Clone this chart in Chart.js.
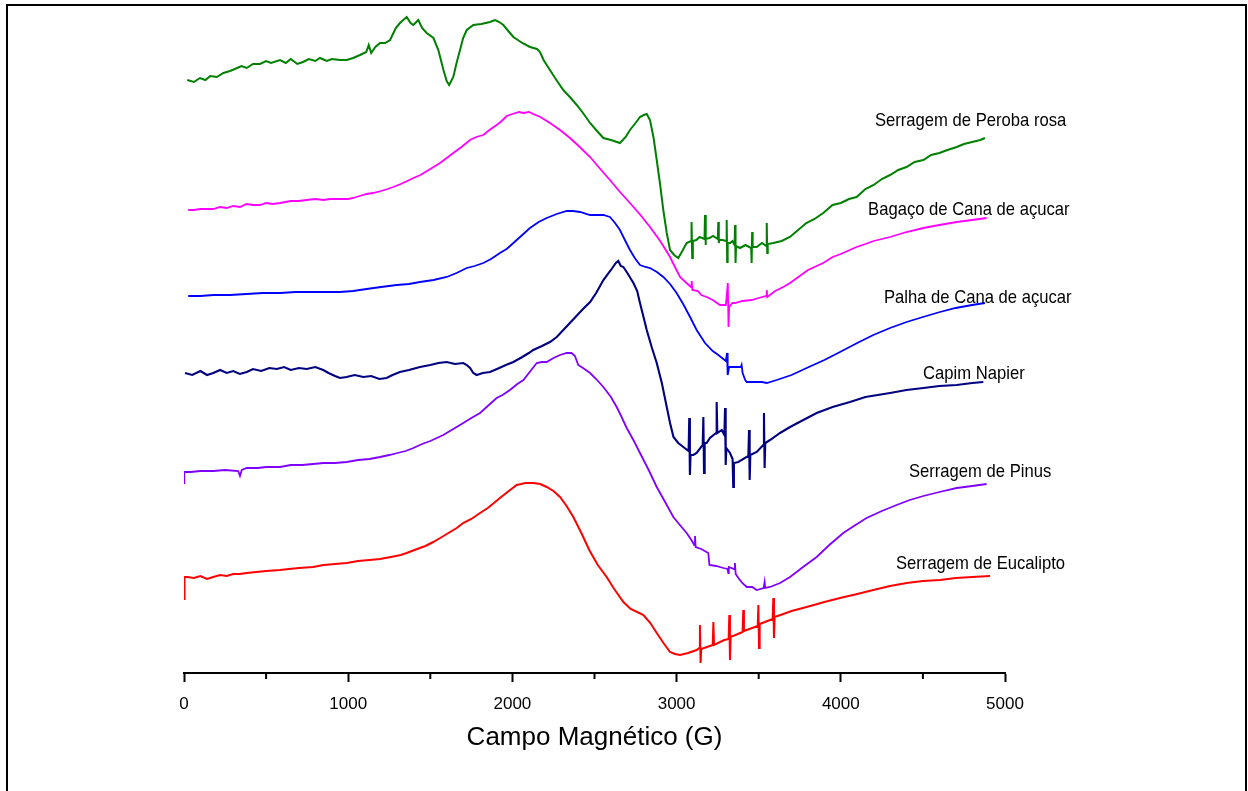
<!DOCTYPE html>
<html>
<head>
<meta charset="utf-8">
<script src="https://cdn.jsdelivr.net/npm/chart.js@4.4.1/dist/chart.umd.min.js"></script>
<style>
html,body{margin:0;padding:0;background:#fff;}
#wrap{position:relative;width:1248px;height:791px;}
</style>
</head>
<body>
<div id="wrap"><canvas id="c" width="1248" height="791"></canvas></div>
<script>
// ---- data (x in Gauss, y in arbitrary intensity units incl. vertical offset) ----
const perobaX = [20,60,97,130,160,200,240,280,310,350,382,420,463,500,530,585,620,650,690,725,760,800,828,870,900,950,991,1030,1072,1110,1125,1140,1165,1194,1225,1255,1290,1315,1356,1380,1397,1427,1450,1478,1519,1549,1580,1600,1615,1640,1660,1681,1700,1722,1762,1810,1864,1894,1920,1945,1975,2006,2060,2107,2150,2168,2190,2209,2260,2310,2350,2392,2430,2473,2510,2554,2600,2655,2690,2716,2750,2777,2800,2818,2838,2860,2879,2900,2919,2940,2960,2985,3010,3035,3061,3088,3091,3095,3099,3120,3140,3170,3173,3176,3179,3200,3222,3251,3254,3257,3260,3280,3302,3305,3308,3311,3327,3340,3353,3356,3359,3362,3386,3420,3454,3457,3460,3463,3488,3520,3546,3549,3552,3555,3589,3640,3690,3740,3790,3840,3893,3950,4000,4050,4096,4150,4200,4250,4300,4350,4400,4450,4503,4550,4600,4650,4706,4750,4800,4850,4878];
const perobaY = [593,591,595,593,597,596,600,602,604,607,605,609,609,612,610,613,610,614,609,611,614,612,615,612,614,613,613,615,618,621,628,620,626,630,630,633,645,650,656,650,648,653,645,640,635,623,603,592,588,596,610,623,635,643,648,649,651,653,651,648,642,636,630,626,624,621,613,608,595,583,576,568,560,550,543,535,533,530,536,543,550,556,558,559,553,535,513,488,463,440,423,418,415,422,430,432,451,415,432,433,436,434,458,428,434,435,437,434,451,430,433,433,432,453,411,430,430,432,428,448,410,427,425,428,425,410,441,426,426,430,427,450,420,429,430,432,436,443,450,454,460,468,470,474,476,484,488,494,498,503,506,511,513,518,520,523,526,529,531,533,535];

const bagacoX = [26,60,100,140,178,220,260,300,341,380,420,463,500,540,585,650,700,747,800,850,889,950,1000,1031,1070,1112,1150,1200,1240,1275,1320,1360,1397,1440,1480,1520,1559,1600,1640,1690,1742,1780,1823,1860,1904,1935,1965,2000,2040,2067,2100,2127,2170,2229,2290,2351,2410,2473,2530,2594,2650,2716,2780,2838,2900,2960,2990,3021,3060,3088,3092,3096,3130,3150,3183,3220,3264,3300,3312,3316,3320,3340,3356,3400,3457,3500,3546,3549,3552,3600,3650,3691,3750,3800,3893,3950,4000,4096,4150,4200,4300,4400,4503,4600,4706,4800,4888];
const bagacoY = [463,463,464,464,464,466,465,467,466,469,468,468,470,469,470,472,472,473,474,473,474,474,474,475,477,479,480,482,484,486,489,492,495,498,502,506,510,515,520,526,533,536,538,543,548,552,557,559,561,560,561,559,556,550,543,535,526,516,505,493,482,470,458,446,432,416,406,396,390,386,392,383,382,378,376,373,368,368,390,346,366,370,370,372,373,375,377,383,376,382,386,390,397,403,410,416,419,426,429,432,436,441,445,448,451,453,455];

const palhaX = [26,100,180,280,380,480,585,680,787,870,950,1030,1112,1200,1295,1370,1437,1520,1600,1660,1722,1770,1823,1870,1924,1965,2006,2060,2107,2160,2209,2270,2331,2370,2412,2473,2520,2554,2594,2625,2655,2685,2716,2745,2777,2810,2838,2880,2919,2960,3000,3040,3082,3122,3173,3220,3254,3300,3307,3311,3320,3345,3392,3396,3402,3418,3427,3489,3520,3549,3610,3700,3792,3900,3995,4100,4198,4300,4401,4500,4604,4700,4800,4878];
const palhaY = [377,377,378,378,379,380,380,381,381,381,381,382,384,386,388,389,391,393,396,400,405,407,410,414,420,424,430,438,445,451,455,459,462,462,461,458,458,458,456,450,443,433,423,415,408,406,405,401,396,389,380,369,356,343,330,322,318,312,320,298,306,306,306,308,300,293,291,291,291,290,293,298,305,313,321,330,338,345,351,356,361,365,368,370];

const capimX = [6,50,100,140,178,220,260,300,340,382,420,470,520,565,610,650,700,747,800,848,880,920,950,990,1040,1092,1140,1190,1234,1270,1315,1370,1437,1500,1550,1600,1650,1701,1722,1742,1762,1782,1820,1864,1920,1960,2006,2060,2100,2127,2180,2229,2270,2310,2350,2390,2430,2473,2510,2554,2600,2630,2645,2660,2676,2700,2737,2760,2777,2800,2818,2850,2879,2910,2940,2960,2981,3010,3041,3073,3077,3081,3085,3102,3122,3159,3163,3167,3171,3183,3203,3240,3244,3248,3275,3291,3295,3299,3303,3325,3341,3345,3349,3376,3437,3441,3445,3449,3488,3528,3532,3536,3540,3569,3630,3691,3760,3853,3950,4056,4150,4300,4400,4503,4600,4706,4800,4868];
const capimY = [300,298,302,298,300,303,300,302,299,301,304,302,305,304,306,303,305,304,306,303,300,297,295,296,298,296,297,294,295,298,301,303,306,308,310,311,309,310,308,305,300,298,300,301,305,308,311,316,320,323,327,331,336,343,350,357,364,371,380,393,403,410,412,407,406,400,390,382,370,355,343,325,310,290,266,250,236,230,226,222,255,198,218,218,220,228,256,200,230,230,235,240,271,240,243,238,265,208,225,220,214,186,210,211,217,243,193,218,221,228,260,205,230,233,240,246,252,260,266,271,276,280,283,285,287,288,290,291];

const pinusX = [0,2,40,100,178,250,330,341,352,382,450,500,585,650,720,787,850,920,991,1060,1130,1194,1250,1300,1350,1397,1450,1500,1540,1579,1640,1701,1750,1803,1850,1904,1940,1985,2030,2067,2110,2148,2180,2209,2250,2290,2331,2360,2381,2401,2430,2473,2510,2554,2600,2635,2665,2696,2740,2777,2830,2879,2930,2980,3020,3061,3090,3108,3112,3116,3150,3193,3200,3240,3285,3310,3315,3318,3350,3355,3360,3376,3400,3427,3460,3488,3530,3536,3540,3569,3630,3691,3770,3853,3930,4015,4080,4157,4250,4340,4420,4503,4600,4706,4800,4888];
const pinusY = [190,201,201,202,202,203,202,197,203,205,205,206,206,208,208,209,210,210,211,213,214,216,218,220,222,225,229,232,235,238,244,250,255,260,267,275,278,283,289,293,302,310,311,311,315,318,320,320,317,308,305,300,294,286,276,266,256,245,232,220,203,186,171,156,148,140,133,128,137,126,124,120,108,107,105,104,100,106,104,110,99,95,90,86,86,83,85,91,85,86,90,96,106,116,128,140,147,155,162,168,173,177,181,185,187,189];

const eucaliptoX = [0,3,20,60,100,140,178,220,260,300,340,382,440,500,585,640,700,787,850,920,991,1060,1130,1194,1260,1320,1356,1420,1470,1518,1560,1600,1661,1700,1750,1803,1850,1880,1924,1970,2026,2080,2127,2170,2209,2250,2290,2330,2371,2420,2468,2520,2574,2620,2676,2720,2760,2798,2840,2879,2920,2960,2990,3021,3070,3122,3138,3142,3146,3150,3220,3224,3228,3290,3317,3321,3325,3329,3402,3406,3410,3494,3498,3502,3506,3585,3589,3593,3597,3650,3700,3792,3900,3995,4100,4198,4300,4401,4500,4604,4700,4800,4909];
const eucaliptoY = [74,96,96,95,97,94,96,98,97,99,99,100,101,102,103,104,105,106,108,109,110,112,113,114,116,118,120,124,127,131,135,139,145,150,154,160,165,169,175,181,188,190,190,189,186,182,176,167,156,140,123,108,96,84,71,64,61,58,50,40,30,21,19,18,20,23,25,48,10,24,28,51,28,33,34,58,13,36,41,63,42,47,68,25,49,54,75,35,56,59,62,66,71,75,79,83,87,90,92,93,95,96,97];

const seriesNames = ['Serragem de Peroba rosa','Bagaço de Cana de açucar','Palha de Cana de açucar','Capim Napier','Serragem de Pinus','Serragem de Eucalipto'];
const seriesColors = ['#008000','#ff00ff','#0000ff','#000080','#8000ff','#ff0000'];
const xTickValues = [0,1000,2000,3000,4000,5000];
const xMinorTickValues = [500,1500,2500,3500,4500];
// label anchors in data units (Gauss, intensity)
const labelAnchorX = [4208,4166,4263,4501,4415,4336];
const labelAnchorY = [552,463,375,299,201,109];

const xs = [perobaX,bagacoX,palhaX,capimX,pinusX,eucaliptoX];
const ys = [perobaY,bagacoY,palhaY,capimY,pinusY,eucaliptoY];
const lineWidths = [2,1.8,1.8,2.1,1.8,2];

const FONT = "'Liberation Sans', Arial, sans-serif";

const framePlugin = {
  id:'frame',
  beforeDraw(chart){
    const c=chart.ctx; c.save(); c.fillStyle='#fff'; c.fillRect(0,0,chart.width,chart.height); c.restore();
  },
  afterDraw(chart){
    const c=chart.ctx, sx=chart.scales.x, sy=chart.scales.y;
    c.save();
    c.strokeStyle='#000'; c.lineWidth=2;
    c.beginPath(); c.moveTo(7,800); c.lineTo(7,5); c.lineTo(1246,5); c.lineTo(1246,800); c.stroke();
    // minor ticks
    const yb=chart.chartArea.bottom;
    xMinorTickValues.forEach(v=>{const p=sx.getPixelForValue(v); c.beginPath(); c.moveTo(p,yb); c.lineTo(p,yb+6); c.stroke();});
    // series labels
    c.fillStyle='#000'; c.textBaseline='middle'; c.textAlign='left';
    c.font="19px "+FONT;
    seriesNames.forEach((n,i)=>{
      const px=sx.getPixelForValue(labelAnchorX[i]), py=sy.getPixelForValue(labelAnchorY[i]);
      c.save(); c.translate(px,py); c.scale(0.875,1); c.fillText(n,0,0); c.restore();
    });
    c.restore();
  }
};

new Chart(document.getElementById('c'),{
  type:'line',
  data:{datasets: seriesNames.map((n,i)=>({
    label:n,
    data: xs[i].map((x,j)=>({x:x,y:ys[i][j]})),
    borderColor: seriesColors[i], backgroundColor: seriesColors[i],
    borderWidth:lineWidths[i], pointRadius:0, tension:0, fill:false
  }))},
  options:{
    responsive:false, animation:false, devicePixelRatio:1,
    layout:{padding:{left:184,right:243,top:10,bottom:34}},
    plugins:{legend:{display:false},tooltip:{enabled:false}},
    scales:{
      x:{type:'linear',min:0,max:5000,position:'bottom',
         afterBuildTicks:(s)=>{s.ticks=xTickValues.map(v=>({value:v}));},
         ticks:{color:'#000',font:{family:FONT,size:17},padding:12,maxRotation:0,autoSkip:false,
                callback:(v)=>String(v)},
         grid:{drawOnChartArea:false,drawTicks:true,tickLength:9,tickWidth:2,tickColor:'#000'},
         border:{display:true,color:'#000',width:2},
         title:{display:true,text:'Campo Magnético (G)',color:'#000',font:{family:FONT,size:26},padding:{top:4,bottom:4}},
         afterFit:(s)=>{s.height=84;}
      },
      y:{type:'linear',display:false,min:0,max:663}
    }
  },
  plugins:[framePlugin]
});
</script>
</body>
</html>
